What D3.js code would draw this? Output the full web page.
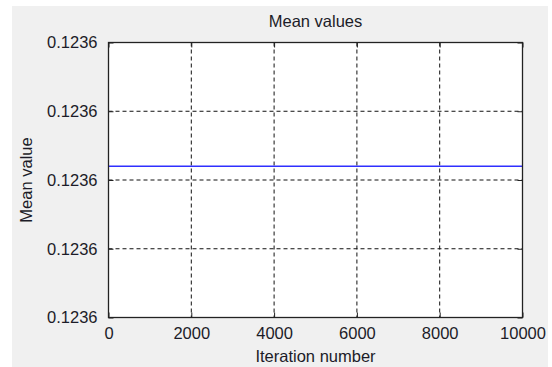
<!DOCTYPE html>
<html>
<head>
<meta charset="utf-8">
<script src="https://cdn.jsdelivr.net/npm/d3@7"></script>
<style>
  body { margin: 0; background: #fff; }
  text { font-family: "Liberation Sans", Arial, sans-serif; fill: #1c1c28; }
</style>
</head>
<body>
<div id="chart"></div>
<script>
// data
var iterations = [0, 10000];
var meanValues = [0.1235710, 0.1235710];
var xTicks = [0, 2000, 4000, 6000, 8000, 10000];
var yTicks = [0.12356, 0.123565, 0.12357, 0.123575, 0.12358];

var W = 552, H = 367;
var margin = { top: 42.5, right: 29.5, bottom: 49.5, left: 108.5 },
  width = W - margin.left - margin.right,
  height = H - margin.top - margin.bottom;

var x = d3.scaleLinear().domain([0, 10000]).range([0, width]);
var y = d3.scaleLinear().domain([0.12356, 0.12358]).range([height, 0]);

var root = d3.select("#chart").append("svg")
  .attr("width", W)
  .attr("height", H);

// grey figure panel
root.append("rect")
  .attr("x", 12).attr("y", 6)
  .attr("width", 536).attr("height", H - 6)
  .attr("fill", "#f0f0f0");

var svg = root.append("g")
  .attr("transform", "translate(" + margin.left + "," + margin.top + ")");

svg.append("rect")
  .attr("width", width).attr("height", height)
  .attr("fill", "#fff");

// dashed grid
svg.append("g").selectAll("line")
  .data(xTicks.slice(1, -1))
  .enter().append("line")
  .attr("x1", d => x(d)).attr("x2", d => x(d))
  .attr("y1", 0).attr("y2", height)
  .attr("stroke", "#111").attr("stroke-dasharray", "4,3");

svg.append("g").selectAll("line")
  .data(yTicks.slice(1, -1))
  .enter().append("line")
  .attr("x1", 0).attr("x2", width)
  .attr("y1", d => y(d)).attr("y2", d => y(d))
  .attr("stroke", "#111").attr("stroke-dasharray", "4,3");

// the mean line
var line = d3.line()
  .x((d, i) => x(iterations[i]))
  .y(d => y(d));

svg.append("path")
  .datum(meanValues)
  .attr("d", line)
  .attr("fill", "none")
  .attr("stroke", "#3030ff")
  .attr("stroke-width", 1.3);

// axes, ticks pointing inward
var xAxis = svg.append("g")
  .attr("transform", "translate(0," + height + ")")
  .call(d3.axisBottom(x).tickValues(xTicks).tickFormat(d3.format("d")).tickSizeInner(-5).tickSizeOuter(0).tickPadding(10));

var yAxis = svg.append("g")
  .call(d3.axisLeft(y).tickValues(yTicks).tickFormat(d => d.toFixed(4)).tickSizeInner(-5).tickSizeOuter(0).tickPadding(11));

svg.append("g")
  .attr("transform", "translate(0,0)")
  .call(d3.axisTop(x).tickValues(xTicks).tickFormat("").tickSizeInner(-5).tickSizeOuter(0));

svg.append("g")
  .attr("transform", "translate(" + width + ",0)")
  .call(d3.axisRight(y).tickValues(yTicks).tickFormat("").tickSizeInner(-5).tickSizeOuter(0));

svg.selectAll(".domain").remove();
svg.selectAll(".tick line").attr("stroke", "#222");
svg.selectAll(".tick text")
  .style("font-size", "16.5px")
  .attr("fill", "#1c1c28")
  .style("font-family", "'Liberation Sans', Arial, sans-serif");

// box around the plot
svg.append("rect")
  .attr("width", width).attr("height", height)
  .attr("fill", "none")
  .attr("stroke", "#222")
  .attr("stroke-width", 1.3);

// title and labels
svg.append("text")
  .attr("x", width / 2).attr("y", -15.5)
  .attr("text-anchor", "middle")
  .style("font-size", "16.5px")
  .text("Mean values");

svg.append("text")
  .attr("x", width / 2).attr("y", height + 44)
  .attr("text-anchor", "middle")
  .style("font-size", "16.5px")
  .text("Iteration number");

svg.append("text")
  .attr("transform", "translate(-77," + (height / 2) + ") rotate(-90)")
  .attr("text-anchor", "middle")
  .style("font-size", "16.5px")
  .text("Mean value");
</script>
</body>
</html>
